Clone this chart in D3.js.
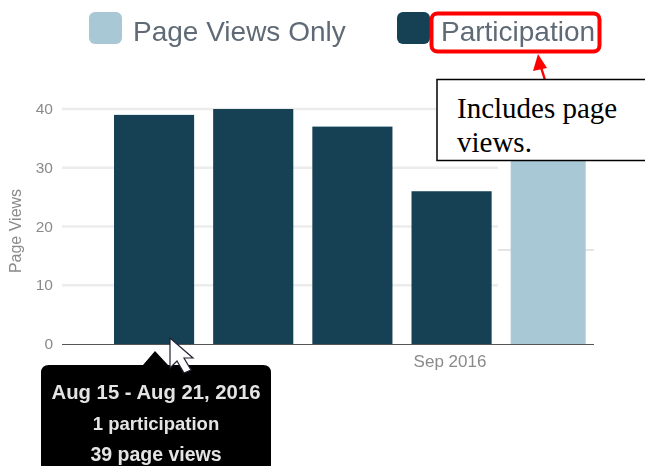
<!DOCTYPE html>
<html><head><meta charset="utf-8">
<script src="https://cdn.jsdelivr.net/npm/d3@7/dist/d3.min.js"></script>
<style>html,body{margin:0;background:#fff}svg{display:block}text{font-family:"Liberation Sans",Arial,sans-serif}</style>
</head><body><script>
const weeks=["Aug 15","Aug 22","Aug 29","Sep 5","Sep 12"];
const pageViews=[39,40,37,26,36];
const seriesOf=["Participation","Participation","Participation","Participation","Page Views Only"];
const yTicks=[0,10,20,30,40];
const legendLabels=["Page Views Only","Participation"];
const xTickLabel="Sep 2016";
const tooltipLines=["Aug 15 - Aug 21, 2016","1 participation","39 page views"];
const calloutLines=["Includes page","views."];

const colors={"Page Views Only":"#a8c8d6","Participation":"#123f53"};
const svg=d3.select("body").append("svg").attr("width",645).attr("height",466);
const defs=svg.append("defs");
defs.append("filter").attr("id","soft").append("feGaussianBlur").attr("stdDeviation",0.45);
const chart=svg.append("g").attr("filter","url(#soft)");

const y=d3.scaleLinear().domain([0,40]).range([344,109]);
const x=d3.scaleBand().domain(weeks).range([114,591.3]).paddingInner(0.187);

chart.append("g").selectAll("line").data(yTicks.filter(d=>d>0)).join("line")
  .attr("x1",62).attr("x2",498).attr("y1",d=>y(d)).attr("y2",d=>y(d))
  .attr("stroke","#ececec").attr("stroke-width",2.5);
// detached gridline segment behind the last bar
chart.append("line").attr("x1",498).attr("x2",594).attr("y1",250).attr("y2",250)
  .attr("stroke","#e4e4e4").attr("stroke-width",2);

chart.append("g").selectAll("rect").data(weeks).join("rect")
  .attr("x",d=>x(d))
  .attr("y",(d,i)=>y(pageViews[i]))
  .attr("width",(d,i)=>i===4?75:x.bandwidth()-0.5)
  .attr("height",(d,i)=>y(0)-y(pageViews[i]))
  .attr("fill",(d,i)=>colors[seriesOf[i]]);

chart.append("line").attr("x1",62).attr("x2",594).attr("y1",344.5).attr("y2",344.5)
  .attr("stroke","#555").attr("stroke-width",1.2);

chart.append("g").selectAll("text").data(yTicks).join("text")
  .attr("x",53).attr("y",d=>y(d)+5).attr("text-anchor","end")
  .attr("font-size",15.5).attr("fill","#8a8a8a").text(d=>d);

chart.append("text").attr("transform","translate(21,231) rotate(-90)")
  .attr("text-anchor","middle").attr("font-size",16).attr("fill","#8a8a8a").text("Page Views");

chart.append("text").attr("x",450).attr("y",367).attr("text-anchor","middle")
  .attr("font-size",17).attr("fill","#8a8a8a").text(xTickLabel);

const legendX=[89,397], legendTextX=[133,441];
const leg=chart.append("g").selectAll("g").data(legendLabels).join("g");
leg.append("rect").attr("x",(d,i)=>legendX[i]).attr("y",12).attr("width",33).attr("height",32)
  .attr("rx",6).attr("fill",d=>colors[d]);
leg.append("text").attr("x",(d,i)=>legendTextX[i]).attr("y",41)
  .attr("font-size",28).attr("fill","#5f6b76").text(d=>d);

// Tooltip
chart.append("path").attr("d","M41 373 Q41 365 49 365 H143 L155 351 L168 365 H263 Q271 365 271 373 V466 H41 Z").attr("fill","#000");
const tipSizes=[20.3,18.5,19.5];
chart.append("g").selectAll("text").data(tooltipLines).join("text")
  .attr("x",156).attr("text-anchor","middle").attr("y",(d,i)=>399+i*31)
  .attr("font-size",(d,i)=>tipSizes[i]).attr("font-weight","bold").attr("fill","#e4e4e4").text(d=>d);

// Cursor
svg.append("path").attr("d","M170 338 V368 L177 361 L184 373 L191 370 L184 358 L193 358 Z")
  .attr("fill","#fff").attr("stroke","#223").attr("stroke-width",1.2);

// Annotation
svg.append("rect").attr("x",431.5).attr("y",13.5).attr("width",168).attr("height",38).attr("rx",6)
  .attr("fill","none").attr("stroke","#f00").attr("stroke-width",4);
svg.append("line").attr("x1",545).attr("y1",80).attr("x2",540).attr("y2",64).attr("stroke","#f00").attr("stroke-width",2.5);
svg.append("path").attr("d","M538 54 L547 68 L533 71 Z").attr("fill","#f00");
svg.append("rect").attr("x",437).attr("y",79.5).attr("width",210).attr("height",81)
  .attr("fill","#fff").attr("stroke","#000").attr("stroke-width",1.5);
svg.append("g").selectAll("text").data(calloutLines).join("text")
  .attr("x",457).attr("y",(d,i)=>118+i*34).attr("font-size",29).attr("fill","#000")
  .style("font-family","'Liberation Serif','Times New Roman',serif").text(d=>d);
</script></body></html>
